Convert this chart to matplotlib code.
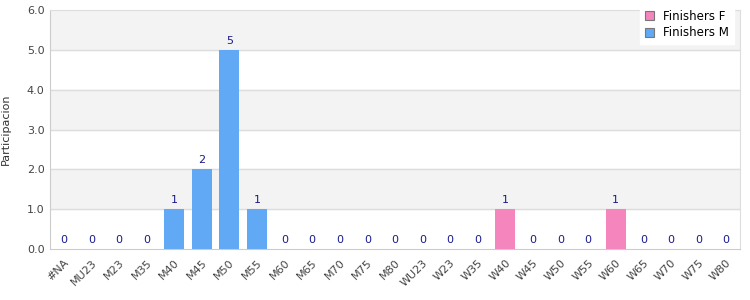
import matplotlib as mpl
from matplotlib import pyplot as plt
import numpy as np

mpl.rcParams['font.family'] = ['DejaVu Sans']

categories = ['#NA', 'MU23', 'M23', 'M35', 'M40', 'M45', 'M50', 'M55', 'M60',
              'M65', 'M70', 'M75', 'M80', 'WU23', 'W23', 'W35', 'W40', 'W45',
              'W50', 'W55', 'W60', 'W65', 'W70', 'W75', 'W80']
finishers_m = [0, 0, 0, 0, 1, 2, 5, 1, 0, 0, 0, 0, 0, 0, 0, 0, 0, 0, 0, 0, 0, 0, 0, 0, 0]
finishers_f = [0, 0, 0, 0, 0, 0, 0, 0, 0, 0, 0, 0, 0, 0, 0, 0, 1, 0, 0, 0, 1, 0, 0, 0, 0]
yticks = [0, 1, 2, 3, 4, 5, 6]

fig = plt.figure(figsize=(7.5, 3), dpi=100)
ax = fig.add_axes([50 / 750, 51 / 300, 690 / 750, 239 / 300])

x = np.arange(len(categories))
ax.set_xlim(-0.5, len(categories) - 0.5)
ax.set_ylim(0, 6)

# alternating bands
for i in range(0, 6):
    if i % 2 == 1:
        ax.axhspan(i, i + 1, color='#f3f3f3', zorder=0)
for t in yticks[1:-1]:
    ax.axhline(t, color='#dddddd', lw=1, zorder=1)

ax.bar(x, finishers_f, width=0.72, color='#f485bd', label='Finishers F', zorder=2)
ax.bar(x, finishers_m, width=0.72, color='#61a8f5', label='Finishers M', zorder=2)

# value labels
for i in range(len(categories)):
    v = finishers_m[i] + finishers_f[i]
    ax.annotate(str(v), (x[i], v), xytext=(0, 3), textcoords='offset points',
                ha='center', va='bottom', fontsize=8, color='#1a1a8c')

ax.set_xticks(x)
ax.set_xticklabels(categories, rotation=45, ha='right', rotation_mode='anchor',
                   fontsize=8, color='#444444')
ax.set_yticks(yticks)
ax.set_yticklabels(['%.1f' % t for t in yticks], fontsize=8, color='#444444')
ax.tick_params(length=0, pad=4)
ax.tick_params(axis='x', pad=6)

for s in ['left', 'bottom', 'right', 'top']:
    ax.spines[s].set_color('#dddddd')
ax.spines['left'].set_color('#cccccc')
ax.spines['bottom'].set_color('#cccccc')

fig.text(6 / 750, 1 - 129 / 300, 'Participacion', rotation=90, fontsize=8,
         color='#333333', ha='center', va='center')

leg = ax.legend(loc='upper right', bbox_to_anchor=(1.0, 1.045), fontsize=8.5,
                frameon=True, fancybox=False, framealpha=1, edgecolor='white',
                handlelength=0.8, handleheight=0.8, borderpad=0.4,
                labelspacing=0.3, handletextpad=0.8)
for h in leg.legend_handles:
    h.set_edgecolor('#777777')
    h.set_linewidth(0.8)
leg.set_zorder(5)

plt.savefig('out.png', dpi=100)
